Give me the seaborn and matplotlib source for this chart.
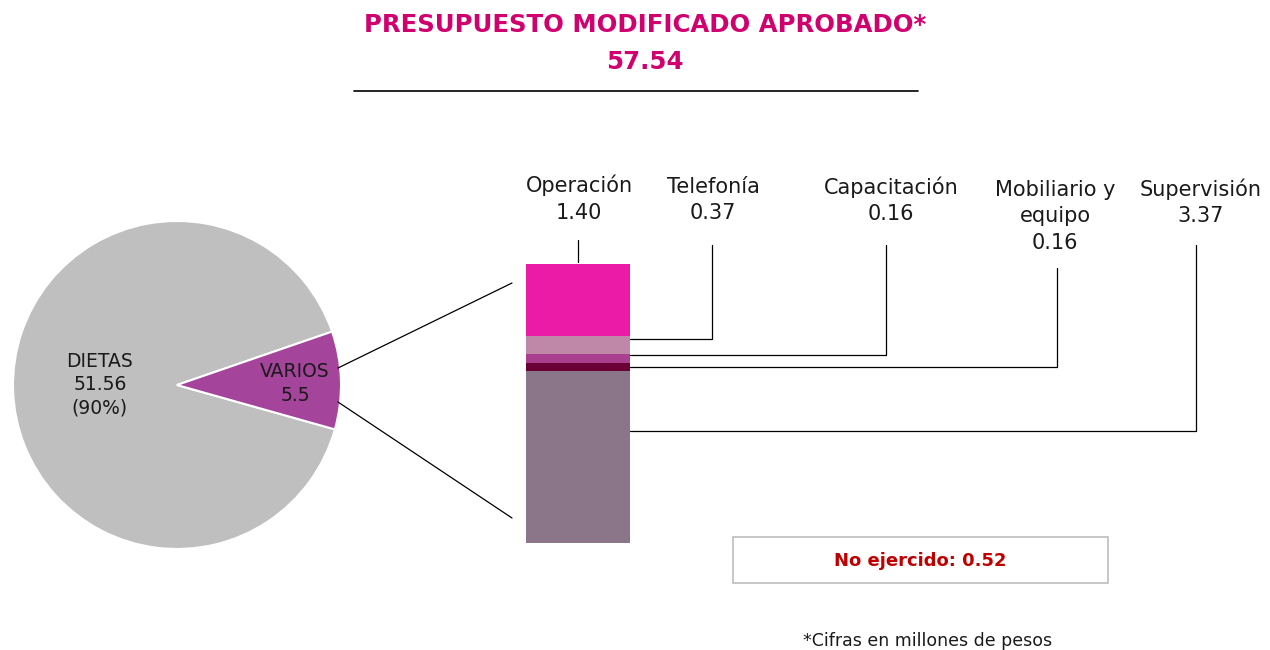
import numpy as np
import pandas as pd
import matplotlib.pyplot as plt
import seaborn as sns
from matplotlib.patches import Rectangle

# --- data ---
title_text = 'PRESUPUESTO MODIFICADO APROBADO*'
total_budget = 57.54

pie_labels = ['DIETAS', 'VARIOS']
pie_values = [51.56, 5.5]
pie_texts = ['DIETAS\n51.56\n(90%)', 'VARIOS\n5.5']
pie_colors = ['#BFBFBF', '#A5449B']

varios_labels = ['Operación', 'Telefonía', 'Capacitación', 'Mobiliario y\nequipo', 'Supervisión']
varios_values = [1.40, 0.37, 0.16, 0.16, 3.37]
varios_colors = ['#EC1BA7', '#C088A8', '#A8408F', '#6A0035', '#8B7589']

no_ejercido = 0.52
footnote = '*Cifras en millones de pesos'

sns.set_theme(style='white')
plt.rcParams['font.family'] = ['DejaVu Sans']

W, H = 1270, 650
fig = plt.figure(figsize=(W / 100, H / 100), dpi=100)
fig.patch.set_facecolor('white')


def fig_rect(x0, y0, x1, y1):
    """pixel box (top-left origin) -> figure fraction rect"""
    return [x0 / W, 1 - y1 / H, (x1 - x0) / W, (y1 - y0) / H]


# overlay axes in pixel coordinates for text and leader lines
ov = fig.add_axes([0, 0, 1, 1], zorder=5)
ov.set_xlim(0, W)
ov.set_ylim(H, 0)
ov.axis('off')
ov.patch.set_alpha(0)

# --- pie ---
ax_pie = fig.add_axes(fig_rect(13, 221, 341, 549))
ax_pie.pie(pie_values, colors=pie_colors, startangle=19, counterclock=True,
           wedgeprops=dict(edgecolor='white', linewidth=1.5))
ax_pie.set_xlim(-1, 1)
ax_pie.set_ylim(-1, 1)
ax_pie.text(-0.47, 0, pie_texts[0], ha='center', va='center', fontsize=13.5,
            color='#1a1a1a', linespacing=1.3)
ax_pie.text(0.72, 0.01, pie_texts[1], ha='center', va='center', fontsize=13.5,
            color='#1a1a1a', linespacing=1.3)

# --- stacked bar of VARIOS breakdown (top: Operación, bottom: Supervisión) ---
ax_bar = fig.add_axes(fig_rect(526, 264, 630, 543))
tops = [sum(varios_values[i:]) for i in range(len(varios_values))]
for top, color in zip(tops, varios_colors):
    sns.barplot(x=['VARIOS'], y=[top], color=color, width=1.0, saturation=1,
                errorbar=None, ax=ax_bar, edgecolor='none', linewidth=0)
ax_bar.set_xlim(-0.5, 0.5)
ax_bar.set_ylim(0, tops[0])
ax_bar.axis('off')


def to_ov(ax, x, y):
    disp = ax.transData.transform((x, y))
    return ov.transData.inverted().transform(disp)


# label positions (pixels) and where each leader meets its segment
label_x = [579, 713, 891, 1055, 1201]
label_top = [175, 177, 176, 180, 178]
leader_x = [578, 712, 886, 1057, 1196]
leader_ytop = [240, 245, 245, 268, 245]
leader_frac = [0.0, 0.18, 0.02, 0.5, 0.35]

for i, (lab, val) in enumerate(zip(varios_labels, varios_values)):
    ov.text(label_x[i], label_top[i], f'{lab}\n{val:.2f}', ha='center', va='top',
            fontsize=15, color='#1a1a1a', linespacing=1.4)
    if i == 0:
        _, ytop_bar = to_ov(ax_bar, 0, tops[0])
        ov.plot([leader_x[i], leader_x[i]], [leader_ytop[i], ytop_bar - 2],
                color='black', lw=0.9)
    else:
        y_data = tops[i] - leader_frac[i] * val
        xr, yr = to_ov(ax_bar, 0.5, y_data)
        ov.plot([xr, leader_x[i], leader_x[i]], [yr, yr, leader_ytop[i]],
                color='black', lw=0.9)

# lines from the VARIOS wedge to the bar
ov.plot([338, 512], [368, 283], color='black', lw=0.9)
ov.plot([338, 512], [402, 518], color='black', lw=0.9)

# --- title ---
ov.text(W / 2 + 10, 25, title_text, ha='center', va='center', fontsize=17.6,
        fontweight='bold', color='#D1006F')
ov.text(W / 2 + 10, 62, f'{total_budget:.2f}', ha='center', va='center', fontsize=17.6,
        fontweight='bold', color='#D1006F')
ov.plot([354, 918], [91, 91], color='black', lw=1.2)

# --- no ejercido box ---
ov.add_patch(Rectangle((733, 537), 375, 46, facecolor='white',
                       edgecolor='#BDBDBD', lw=1.2))
ov.text(920, 561, f'No ejercido: {no_ejercido:.2f}', ha='center', va='center',
        fontsize=13, fontweight='bold', color='#C00000')

# --- footnote ---
ov.text(928, 641, footnote, ha='center', va='center', fontsize=12.5, color='#1a1a1a')

fig.savefig('out.png', dpi=100, facecolor='white')
